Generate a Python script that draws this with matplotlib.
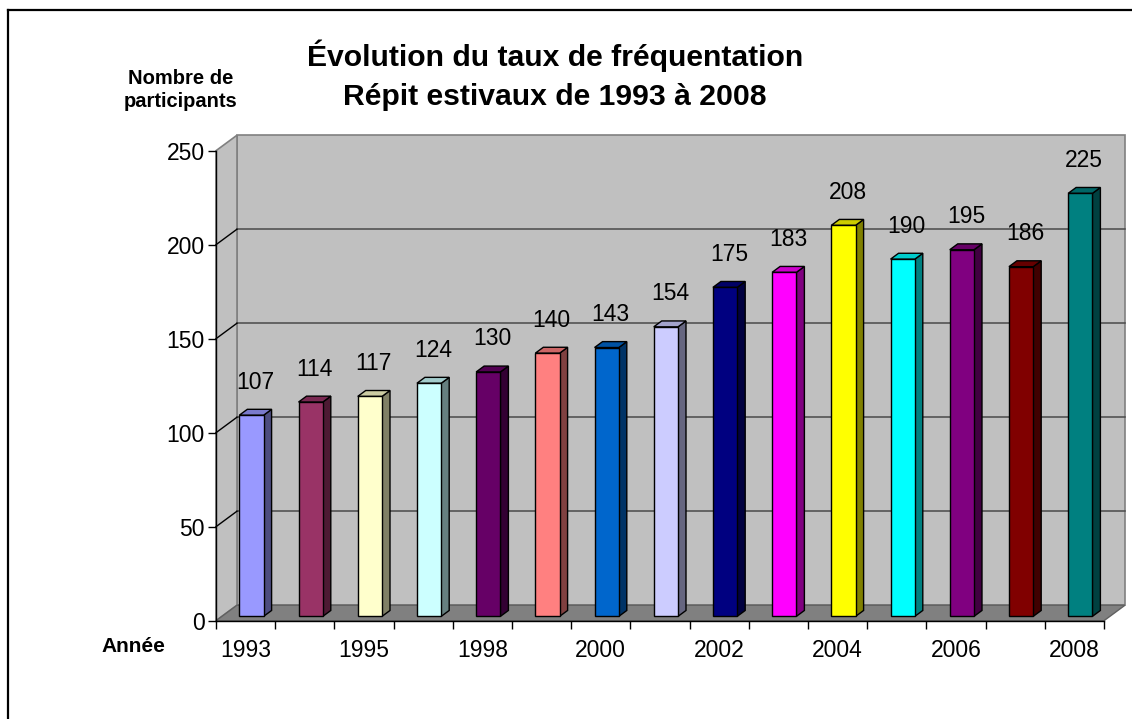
import matplotlib
matplotlib.use("Agg")
import matplotlib.pyplot as plt
from matplotlib.patches import Polygon
from matplotlib.lines import Line2D
import numpy as np

plt.rcParams['font.family'] = ['Liberation Sans', 'DejaVu Sans']

# ---- data ----
years = ['1993', '1994', '1995', '1997', '1998', '1999', '2000', '2001',
         '2002', '2003', '2004', '2005', '2006', '2007', '2008']
participants = [107, 114, 117, 124, 130, 140, 143, 154, 175, 183, 208, 190, 195, 186, 225]
bar_colors = ['#9999FF', '#993366', '#FFFFCC', '#CCFFFF', '#660066', '#FF8080',
              '#0066CC', '#CCCCFF', '#000080', '#FF00FF', '#FFFF00', '#00FFFF',
              '#800080', '#800000', '#008080']
yticks = [0, 50, 100, 150, 200, 250]
title = "Évolution du taux de fréquentation\nRépit estivaux de 1993 à 2008"
ylabel = "Nombre de\nparticipants"
xlabel = "Année"

W, H = 1132, 719
fig = plt.figure(figsize=(W / 100, H / 100), dpi=100)
fig.patch.set_facecolor('white')

# front plane of the 3D box
L, R, B, T = 216, 1104, 620.7, 150.7
ax = fig.add_axes([L / W, 1 - B / H, (R - L) / W, (B - T) / H])
n = len(participants)
ax.set_xlim(-0.5, n - 0.5)
ax.set_ylim(0, 250)
ax.patch.set_visible(False)

px_x = (R - L) / n          # pixels per category
px_y = (B - T) / 250.0      # pixels per unit
DX = 21 / px_x              # depth offset in data units
DY = 15.5 / px_y

x0, x1 = -0.5, n - 0.5
ytop = 250
wall = '#C0C0C0'
edge = '#808080'

# back wall
ax.add_patch(Polygon([(x0 + DX, DY), (x1 + DX, DY), (x1 + DX, ytop + DY), (x0 + DX, ytop + DY)],
                     closed=True, facecolor=wall, edgecolor=edge, lw=1.2, zorder=0, clip_on=False))
# left side wall
ax.add_patch(Polygon([(x0, 0), (x0 + DX, DY), (x0 + DX, ytop + DY), (x0, ytop)],
                     closed=True, facecolor=wall, edgecolor=edge, lw=1.2, zorder=0, clip_on=False))
# gridlines
for v in yticks[1:-1]:
    ax.plot([x0 + DX, x1 + DX], [v + DY, v + DY], color='#4a4a4a', lw=1.1, zorder=0.5, clip_on=False)
    ax.plot([x0, x0 + DX], [v, v + DY], color='black', lw=1.0, zorder=0.5, clip_on=False)
# floor
ax.add_patch(Polygon([(x0, 0), (x1, 0), (x1 + DX, DY), (x0 + DX, DY)],
                     closed=True, facecolor='#808080', edgecolor='#606060', lw=1.0, zorder=1, clip_on=False))

# bars
f1 = 0.28
bd = 0.38
bw = 0.41
xs = np.arange(n) + f1 * DX
base = f1 * DY
bars = ax.bar(xs, participants, width=bw, bottom=base, color=bar_colors,
              edgecolor='black', linewidth=1.0, zorder=3)


def shade(c, k):
    rgb = np.array(matplotlib.colors.to_rgb(c))
    return tuple(rgb * k)


bdx, bdy = bd * DX, bd * DY
for xc, v, c in zip(xs, participants, bar_colors):
    xa, xb = xc - bw / 2, xc + bw / 2
    top = base + v
    ax.add_patch(Polygon([(xb, base), (xb + bdx, base + bdy), (xb + bdx, top + bdy), (xb, top)],
                         closed=True, facecolor=shade(c, 0.5), edgecolor='black', lw=1.0, zorder=2.9,
                         clip_on=False))
    ax.add_patch(Polygon([(xa, top), (xb, top), (xb + bdx, top + bdy), (xa + bdx, top + bdy)],
                         closed=True, facecolor=shade(c, 0.8), edgecolor='black', lw=1.0, zorder=2.9,
                         clip_on=False))
    ax.annotate(str(v), (xc, top), xytext=(4, 33), textcoords='offset pixels',
                ha='center', va='center', fontsize=16.5, color='black', zorder=5,
                annotation_clip=False)

# axes styling
for s in ['top', 'right']:
    ax.spines[s].set_visible(False)
for s in ['left', 'bottom']:
    ax.spines[s].set_color('black')
    ax.spines[s].set_linewidth(1.0)
    ax.spines[s].set_zorder(4)
ax.set_yticks(yticks)
ax.set_yticklabels([str(v) for v in yticks])
ax.tick_params(axis='y', direction='out', length=6, width=1.0, labelsize=16.5, pad=2)
ax.set_xticks(np.arange(-0.5, n, 1.0))
ax.set_xticklabels([])
ax.set_xticks(np.arange(n), minor=True)
ax.set_xticklabels([y if i % 2 == 0 else '' for i, y in enumerate(years)], minor=True)
ax.tick_params(axis='x', which='major', direction='out', length=6, width=1.0)
ax.tick_params(axis='x', which='minor', length=0, labelsize=16.5, pad=13)

# texts
fig.text(555 / W, 1 - 75 / H, title, ha='center', va='center', fontsize=21.7,
         fontweight='bold', linespacing=1.5)
fig.text(181 / W, 1 - 90 / H, ylabel, ha='center', va='center', fontsize=14.5,
         fontweight='bold', linespacing=1.3)
fig.text(133 / W, 1 - 646 / H, xlabel, ha='center', va='center', fontsize=15,
         fontweight='bold')

# outer chart border (left and top visible)
bx, by = 8 / W, 1 - 10 / H
fig.add_artist(Line2D([bx, bx], [-0.1, by], transform=fig.transFigure, color='black', lw=1.6))
fig.add_artist(Line2D([bx, 1.1], [by, by], transform=fig.transFigure, color='black', lw=1.6))

fig.savefig('out.png', dpi=100, facecolor='white')
